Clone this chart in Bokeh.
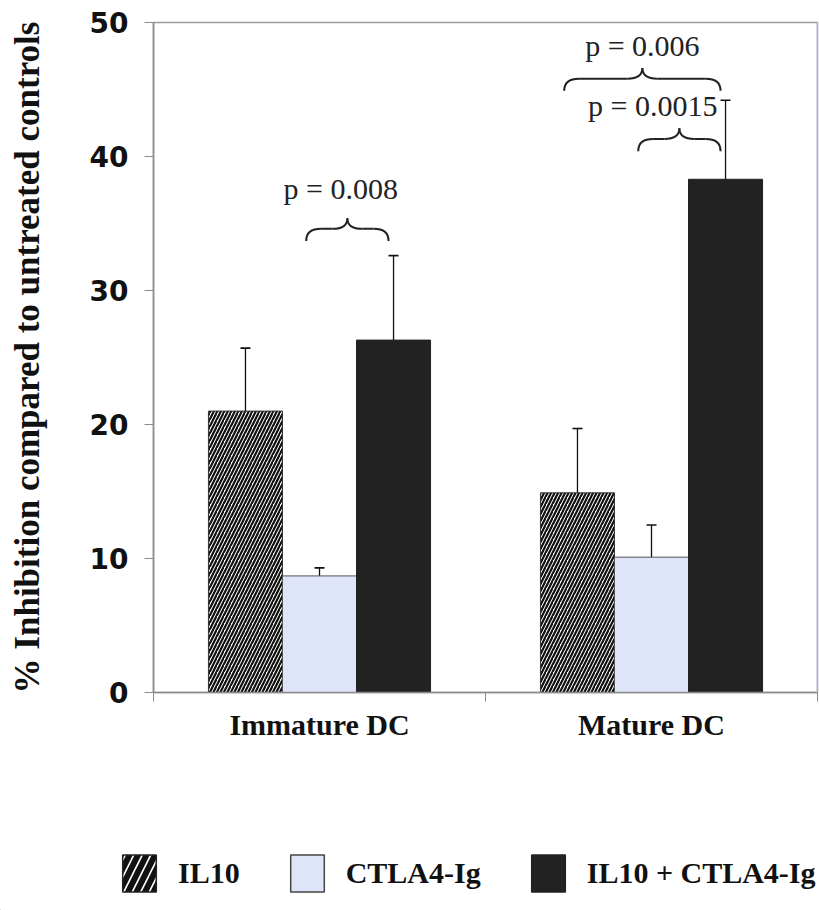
from bokeh.plotting import figure
from bokeh.layouts import column, row
from bokeh.models import (ColumnDataSource, Range1d, FixedTicker, Whisker, TeeHead,
                          Legend, LegendItem, Span)
from bokeh.core.properties import value
from bokeh.embed import file_html
from bokeh.resources import INLINE

# ---------------- data ----------------
groups = ["Immature DC", "Mature DC"]
series = ["IL10", "CTLA4-Ig", "IL10 + CTLA4-Ig"]
il10 = [21.0, 14.9]
il10_err = [4.7, 4.8]
ctla4 = [8.7, 10.1]
ctla4_err = [0.6, 2.4]
combo = [26.3, 38.3]
combo_err = [6.3, 5.9]
y_ticks = [0, 10, 20, 30, 40, 50]

# significance annotations
p_labels = ["p = 0.008", "p = 0.006", "p = 0.0015"]
p_group = [0, 1, 1]
p_from = [1, 0, 1]
p_to = [2, 2, 2]
p_brace_y = [33.7, 44.9, 40.4]
p_text_y = [37.6, 48.3, 43.8]
p_text_dx = [-0.02, -0.0, -0.08]

values = [il10, ctla4, combo]
errors = [il10_err, ctla4_err, combo_err]

BAR_W = 0.223
offsets = [-BAR_W, 0.0, BAR_W]

def xpos(g, s):
    return g + 0.5 + offsets[s]

MAIN_H = 760
p = figure(width=819, height=MAIN_H, output_backend="svg", toolbar_location=None,
           x_range=Range1d(0, len(groups)), y_range=Range1d(0, 50),
           min_border_left=153, min_border_right=2, min_border_top=22,
           min_border_bottom=MAIN_H - 692)
p.xgrid.visible = False
p.ygrid.visible = False
p.outline_line_color = "#9a9a9a"
p.outline_line_width = 1.5
p.background_fill_color = "white"
p.border_fill_color = "white"

styles = [
    dict(fill_color="white", hatch_pattern="/", hatch_color="#111111",
         hatch_scale=7, hatch_weight=2.2, line_color="#333333", line_width=1),
    dict(fill_color="#dfe5f8", line_color="#555555", line_width=1),
    dict(fill_color="#222222", line_color="#222222", line_width=1),
]

wx, wu, wl = [], [], []
for s in range(len(series)):
    xs = [xpos(g, s) for g in range(len(groups))]
    src = ColumnDataSource(dict(x=xs, top=values[s]))
    p.vbar(x="x", top="top", bottom=0, width=BAR_W, source=src, **styles[s])
    for g in range(len(groups)):
        wx.append(xs[g])
        wu.append(values[s][g] + errors[s][g])
        wl.append(values[s][g] - errors[s][g])

wsrc = ColumnDataSource(dict(base=wx, upper=wu, lower=wl))
p.add_layout(Whisker(source=wsrc, base="base", upper="upper", lower="lower",
                     line_color="#111111", line_width=1.3,
                     upper_head=TeeHead(size=10, line_color="#111111", line_width=1.6),
                     lower_head=TeeHead(size=10, line_color="#111111", line_width=1.6)))

# braces
for i in range(len(p_labels)):
    g = p_group[i]
    x0 = xpos(g, p_from[i]) - 0.04
    x1 = xpos(g, p_to[i]) - 0.015
    xc = (x0 + x1) / 2
    yb = p_brace_y[i]
    ym = yb + 0.9
    yt = yb + 1.7
    r = 0.045
    p.quadratic(x0=[x0, x1, xc - r, xc + r], y0=[yb, yb, ym, ym],
                x1=[x0 + r, x1 - r, xc, xc], y1=[ym, ym, yt, yt],
                cx=[x0, x1, xc, xc], cy=[ym, ym, ym, ym],
                line_color="#222222", line_width=2)
    p.segment(x0=[x0 + r, xc + r], y0=[ym, ym], x1=[xc - r, x1 - r], y1=[ym, ym],
              line_color="#222222", line_width=2)
    p.text(x=[xc + p_text_dx[i]], y=[p_text_y[i]], text=[p_labels[i]],
           text_font=value("Liberation Serif"), text_font_size="30px",
           text_align="center", text_baseline="alphabetic", text_color="#222222")

# right edge faint blue
p.add_layout(Span(location=len(groups), dimension="height", line_color="#c5c8f0", line_width=2))

# axes
p.yaxis.ticker = FixedTicker(ticks=y_ticks)
p.yaxis.minor_tick_line_color = None
p.yaxis.major_tick_in = 0
p.yaxis.major_tick_out = 9
p.yaxis.major_tick_line_color = "#8a8a8a"
p.yaxis.axis_line_color = "#8a8a8a"
p.yaxis.axis_line_width = 1.5
p.yaxis.major_label_text_font = "DejaVu Sans"
p.yaxis.major_label_text_font_style = "bold"
p.yaxis.major_label_text_font_size = "28px"
p.yaxis.major_label_text_color = "#111111"
p.yaxis.major_label_standoff = 16
p.yaxis.axis_label = "% Inhibition compared to untreated controls"
p.yaxis.axis_label_text_font = "Liberation Serif"
p.yaxis.axis_label_text_font_style = "bold"
p.yaxis.axis_label_text_font_size = "35px"
p.yaxis.axis_label_text_color = "#111111"
p.yaxis.axis_label_standoff = 40

centers = [g + 0.5 for g in range(len(groups))]
bounds = [float(g) for g in range(len(groups) + 1)]
p.xaxis.ticker = FixedTicker(ticks=centers, minor_ticks=bounds)
p.xaxis.major_label_overrides = {c: groups[i] for i, c in enumerate(centers)}
p.xaxis.major_tick_line_color = None
p.xaxis.major_tick_out = 0
p.xaxis.major_tick_in = 0
p.xaxis.minor_tick_out = 9
p.xaxis.minor_tick_in = 0
p.xaxis.minor_tick_line_color = "#8a8a8a"
p.xaxis.axis_line_color = "#8a8a8a"
p.xaxis.axis_line_width = 1.5
p.xaxis.major_label_text_font = "Liberation Serif"
p.xaxis.major_label_text_font_style = "bold"
p.xaxis.major_label_text_font_size = "30px"
p.xaxis.major_label_text_color = "#111111"
p.xaxis.major_label_standoff = 6

# ---------------- legend strip ----------------
LEG_H = 910 - MAIN_H
pl = figure(width=819, height=LEG_H, output_backend="svg", toolbar_location=None,
            x_range=Range1d(0, 1), y_range=Range1d(0, 1),
            min_border=0, min_border_left=0, min_border_right=0,
            min_border_top=0, min_border_bottom=0)
pl.axis.visible = False
pl.grid.visible = False
pl.outline_line_color = None
pl.background_fill_color = "white"
pl.border_fill_color = "white"

# swatch renderers: one point placed outside the visible range
hidden = dict(x=[-10.0], top=[0.0])
leg_styles = [
    dict(fill_color="white", hatch_pattern="/", hatch_color="#111111",
         hatch_scale=17, hatch_weight=6, line_color="#222222", line_width=1.5),
    dict(fill_color="#dfe5f8", line_color="#444444", line_width=1.5),
    dict(fill_color="#222222", line_color="#222222", line_width=1.5),
]
items = []
for s in range(len(series)):
    r = pl.vbar(x="x", top="top", width=0.1, source=ColumnDataSource(dict(hidden)), **leg_styles[s])
    items.append(LegendItem(label=series[s], renderers=[r]))

legend = Legend(items=items, orientation="horizontal", location=(118, 14),
                glyph_width=42, glyph_height=46, label_standoff=18, spacing=46,
                label_text_font="Liberation Serif", label_text_font_style="bold",
                label_text_font_size="30px", label_text_color="#111111",
                label_height=46, border_line_color=None, background_fill_alpha=0,
                padding=0, margin=0)
pl.add_layout(legend, "center")

layout = column(p, row(pl, spacing=0), spacing=0)
open("out.html", "w").write(file_html(layout, INLINE))
